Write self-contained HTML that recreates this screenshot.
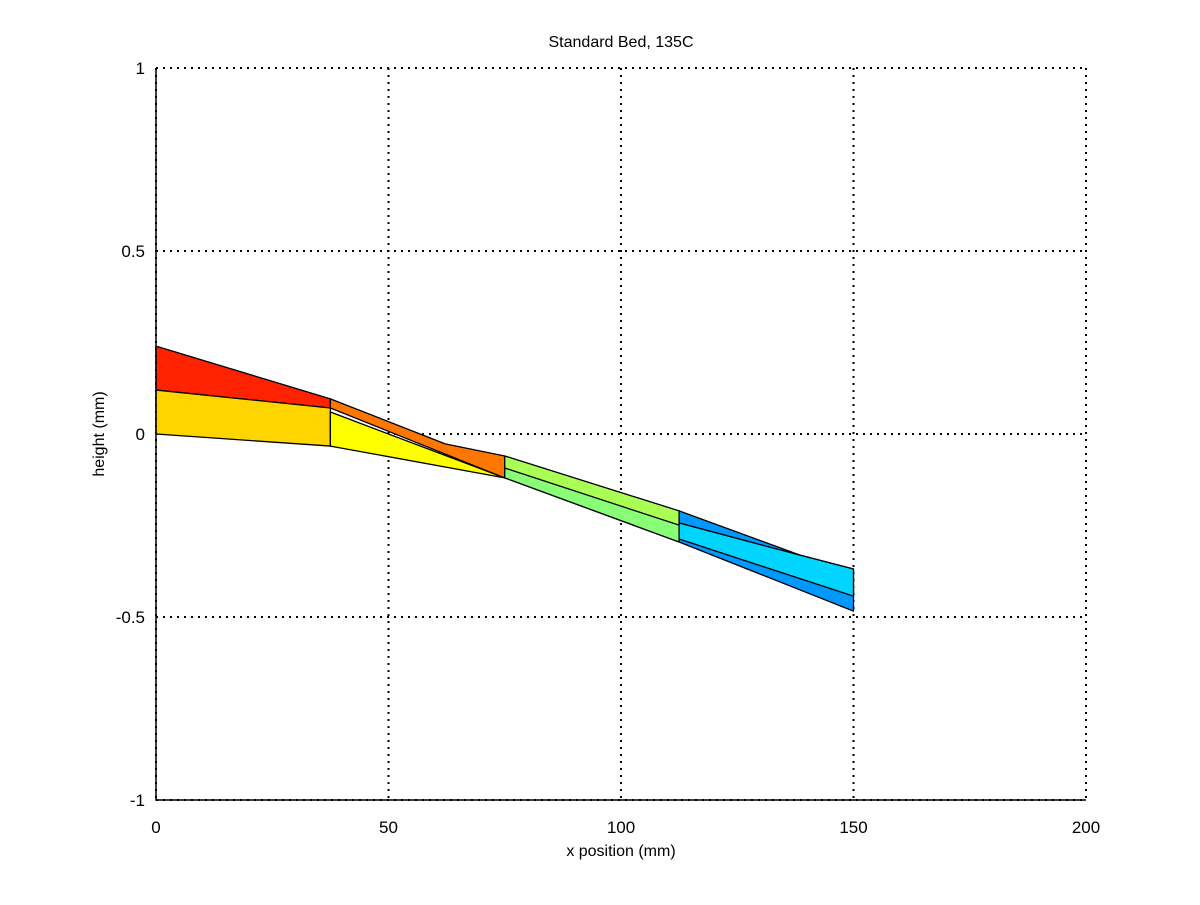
<!DOCTYPE html>
<html><head><meta charset="utf-8"><style>
body{margin:0;background:#fff}
svg text{font-family:"Liberation Sans",sans-serif;fill:#000}
</style></head><body>
<svg id="c" width="1200" height="900" xmlns="http://www.w3.org/2000/svg"></svg>
<script>
const xTicks=[0,50,100,150,200];
const yTicks=[-1,-0.5,0,0.5,1];
const yTickLabels=["-1","-0.5","0","0.5","1"];
const patchNames=["red-patch","gold-patch","orange-patch","yellow-patch","green-patch","lightgreen-patch","blue-patch","cyan-patch"];
const patchColors=["#ff2200","#ffd500","#ff7700","#ffff00","#aaff55","#88ff77","#0099ff","#00d5ff"];
const patchX=[[0,37.5,37.5,0],[0,37.5,37.5,0],[37.5,62.2,75,75,37.5],[37.5,75,37.5],[75,112.5,112.5,75],[75,112.5,112.5,75],[112.5,138.5,150,150,112.5],[112.5,138.5,150,150,112.5]];
const patchY=[[0.240,0.096,0.071,0.120],[0.120,0.071,-0.033,0],[0.096,-0.027,-0.060,-0.120,0.071],[0.060,-0.120,-0.033],[-0.060,-0.210,-0.295,-0.120],[-0.093,-0.249,-0.295,-0.120],[-0.210,-0.331,-0.369,-0.484,-0.295],[-0.243,-0.331,-0.369,-0.443,-0.287]];
const X=v=>156+v*4.65, Y=v=>434-v*366;
const s=document.getElementById('c');const NS="http://www.w3.org/2000/svg";
function mk(t,a){const e=document.createElementNS(NS,t);for(const k in a)e.setAttribute(k,a[k]);s.appendChild(e);return e;}
xTicks.forEach((t,i)=>{const l=mk('line',{x1:X(t),x2:X(t),y1:68,y2:800,stroke:'#000','stroke-width':2,'stroke-dasharray':'2,5'});


const tx=mk('text',{x:X(t),y:833,'text-anchor':'middle','font-size':17});tx.textContent=t;

});
yTicks.forEach((t,i)=>{const l=mk('line',{x1:156,x2:1086,y1:Y(t),y2:Y(t),stroke:'#000','stroke-width':2,'stroke-dasharray':'2,5'});


const tx=mk('text',{x:145,y:Y(t)+6,'text-anchor':'end','font-size':17});tx.textContent=yTickLabels[i];

});
patchX.forEach((xs,i)=>{const p=mk('polygon',{points:xs.map((x,j)=>X(x)+','+Y(patchY[i][j])).join(' '),fill:patchColors[i],stroke:'#000','stroke-width':1.3,'stroke-linejoin':'round'});

});
const ax=mk('path',{d:'M156,68 V800 H1086',fill:'none',stroke:'#000','stroke-width':1.5});


const ti=mk('text',{x:621,y:47,'text-anchor':'middle','font-size':16});ti.textContent='Standard Bed, 135C';


const xl=mk('text',{x:621,y:856,'text-anchor':'middle','font-size':16});xl.textContent='x position (mm)';


const yl=mk('text',{x:0,y:0,'text-anchor':'middle','font-size':16,transform:'translate(104,434) rotate(-90)'});yl.textContent='height (mm)';


</script>
</body></html>
